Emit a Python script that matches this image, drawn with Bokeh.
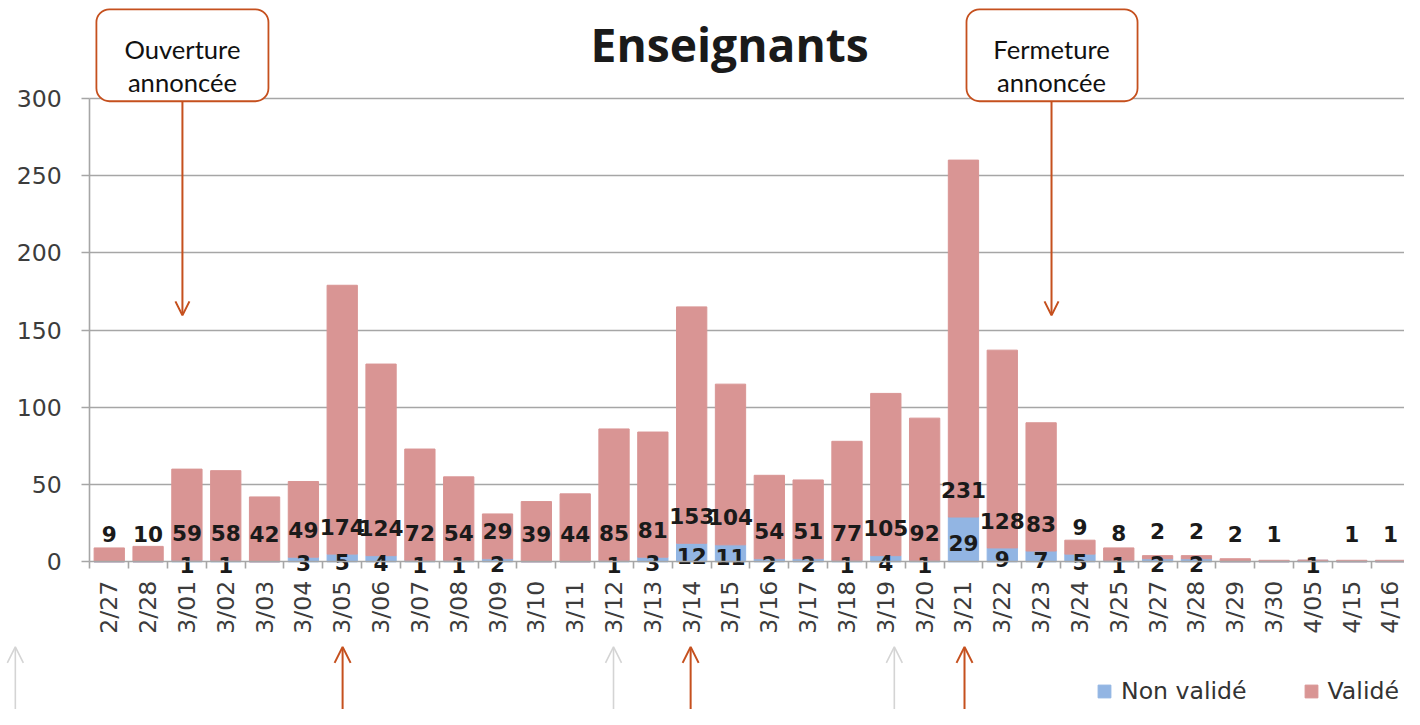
import math
from bokeh.plotting import figure
from bokeh.models import (Range1d, LinearAxis, FixedTicker, ColumnDataSource, Label,
                          Arrow, OpenHead, BoxAnnotation, Legend, LegendItem, Grid)
from bokeh.core.properties import value
from bokeh.embed import file_html
from bokeh.resources import INLINE

# ---------------- data ----------------
dates = ["2/27", "2/28", "3/01", "3/02", "3/03", "3/04", "3/05", "3/06", "3/07", "3/08",
         "3/09", "3/10", "3/11", "3/12", "3/13", "3/14", "3/15", "3/16", "3/17", "3/18",
         "3/19", "3/20", "3/21", "3/22", "3/23", "3/24", "3/25", "3/27", "3/28", "3/29",
         "3/30", "4/05", "4/15", "4/16"]
valide = [9, 10, 59, 58, 42, 49, 174, 124, 72, 54,
          29, 39, 44, 85, 81, 153, 104, 54, 51, 77,
          105, 92, 231, 128, 83, 9, 8, 2, 2, 2,
          1, 0, 1, 1]
non_valide = [0, 0, 1, 1, 0, 3, 5, 4, 1, 1,
              2, 0, 0, 1, 3, 12, 11, 2, 2, 1,
              4, 1, 29, 9, 7, 5, 1, 2, 2, 0,
              0, 1, 0, 0]
y_ticks = [0, 50, 100, 150, 200, 250, 300]
title_text = "Enseignants"
series_names = ["Non validé", "Validé"]

# ---------------- layout helpers (reference pixels -> data) ----------------
W, H = 1404, 709
SX, SY = W / 1420, H / 725
FS = (SX + SY) / 2
def fx(X):
    return (X - 110) / 39.27
def fy(Y):
    return (574 - Y) / 1.58
def px(v):
    return f"{v * FS:.1f}px"

BLUE = "#92b5e3"
PINK = "#d99594"
RED = "#c5501e"
GRAY = "#a6a6a6"
n = len(dates)

p = figure(width=W, height=H, x_range=Range1d(fx(0), fx(1420)),
           y_range=Range1d(fy(725), fy(0)), title=None,
           x_axis_location=None, y_axis_location=None,
           toolbar_location=None, output_backend="svg", min_border=0)
p.outline_line_color = None
p.background_fill_color = "white"
p.border_fill_color = "white"
for g in p.grid:
    g.visible = False

# grid
grid = Grid(dimension=1, ticker=FixedTicker(ticks=y_ticks[1:]),
            cross_bounds=(-0.5, fx(1440)),
            grid_line_color=GRAY, grid_line_width=1.6)
p.add_layout(grid)

# bars
src = ColumnDataSource(dict(x=list(range(n)), non_valide=non_valide, valide=valide))
rs = p.vbar_stack(["non_valide", "valide"], x="x", width=0.78, color=[BLUE, PINK],
                  source=src)

# axes
yaxis = LinearAxis(fixed_location=-0.5, bounds=(0, 300),
                   ticker=FixedTicker(ticks=y_ticks),
                   major_tick_out=8, major_tick_in=0, minor_tick_out=0, minor_tick_in=0,
                   axis_line_color=GRAY, axis_line_width=1.6,
                   major_tick_line_color=GRAY, major_tick_line_width=1.6,
                   major_label_text_font="DejaVu Sans", major_label_text_font_size=px(24),
                   major_label_text_color="#3c3c3c", major_label_standoff=20)
p.add_layout(yaxis, "left")

xaxis = LinearAxis(fixed_location=0, bounds=(-0.5, n - 0.5),
                   ticker=FixedTicker(ticks=list(range(n)),
                                      minor_ticks=[i - 0.5 for i in range(n + 1)]),
                   major_label_overrides={i: d for i, d in enumerate(dates)},
                   major_label_orientation=math.pi / 2,
                   major_tick_out=0, major_tick_in=0, minor_tick_out=7, minor_tick_in=0,
                   axis_line_color=GRAY, axis_line_width=1.6,
                   minor_tick_line_color=GRAY, minor_tick_line_width=1.6,
                   major_label_text_font="DejaVu Sans", major_label_text_font_size=px(24),
                   major_label_text_color="#3c3c3c", major_label_standoff=12)
p.add_layout(xaxis, "below")

# data labels
lv = ColumnDataSource(dict(
    x=[i for i in range(n) if valide[i] > 0],
    y=[non_valide[i] for i in range(n) if valide[i] > 0],
    t=[str(valide[i]) for i in range(n) if valide[i] > 0]))
p.text(x="x", y="y", text="t", source=lv, y_offset=-28 * SY, text_align="center",
       text_baseline="middle", text_font=value("DejaVu Sans"), text_font_style="bold",
       text_font_size=px(22), text_color="#1a1a1a")
ln = ColumnDataSource(dict(
    x=[i for i in range(n) if non_valide[i] > 0],
    y=[non_valide[i] / 2 for i in range(n) if non_valide[i] > 0],
    t=[str(non_valide[i]) for i in range(n) if non_valide[i] > 0]))
p.text(x="x", y="y", text="t", source=ln, y_offset=4 * SY, text_align="center",
       text_baseline="middle", text_font=value("DejaVu Sans"), text_font_style="bold",
       text_font_size=px(22), text_color="#1a1a1a")

# title
p.add_layout(Label(x=fx(737.5), y=fy(45), text=title_text, text_align="center",
                   text_baseline="alphabetic", text_font="Open Sans",
                   text_font_style="bold", text_font_size=px(47), text_color="#1a1a1a"))

# callouts
for (l, r, cx, line1, tip) in [(97, 271, 184, "Ouverture", 322),
                               (977, 1150, 1063, "Fermeture", 322)]:
    p.add_layout(Arrow(end=OpenHead(size=14, line_color=RED, line_width=2),
                       x_start=fx(cx), y_start=fy(103), x_end=fx(cx), y_end=fy(tip),
                       line_color=RED, line_width=2))
    p.add_layout(BoxAnnotation(left=fx(l), right=fx(r), top=fy(9), bottom=fy(103),
                               fill_color="white", fill_alpha=1, line_color=RED,
                               line_alpha=1, line_width=1.8, border_radius=13,
                               level="annotation"))
    p.add_layout(Label(x=fx(cx), y=fy(50), text=line1, text_align="center",
                       text_baseline="alphabetic", text_font="Lato",
                       text_font_size=px(26), text_color="#111111"))
    p.add_layout(Label(x=fx(cx), y=fy(83), text="annoncée", text_align="center",
                       text_baseline="alphabetic", text_font="Lato",
                       text_font_size=px(26), text_color="#111111"))

# bottom arrows
for X, col, lw in [(15, "#d4d4d4", 1.6), (620, "#d4d4d4", 1.6), (904, "#d4d4d4", 1.6),
                   (346, RED, 2), (698, RED, 2), (975, RED, 2)]:
    p.add_layout(Arrow(end=OpenHead(size=16, line_color=col, line_width=lw),
                       x_start=fx(X), y_start=fy(740), x_end=fx(X), y_end=fy(661),
                       line_color=col, line_width=lw))

# legend
legend = Legend(items=[LegendItem(label=series_names[0], renderers=[rs[0]]),
                       LegendItem(label=series_names[1], renderers=[rs[1]])],
                orientation="horizontal", location=(round(1108 * SX), 4),
                glyph_width=16, glyph_height=16, label_standoff=9, spacing=56,
                padding=0, margin=0, border_line_color=None, background_fill_alpha=0,
                label_text_font="DejaVu Sans", label_text_font_size=px(24),
                label_text_color="#333333", label_height=20)
p.add_layout(legend, "center")

open("out.html", "w").write(file_html(p, INLINE))
